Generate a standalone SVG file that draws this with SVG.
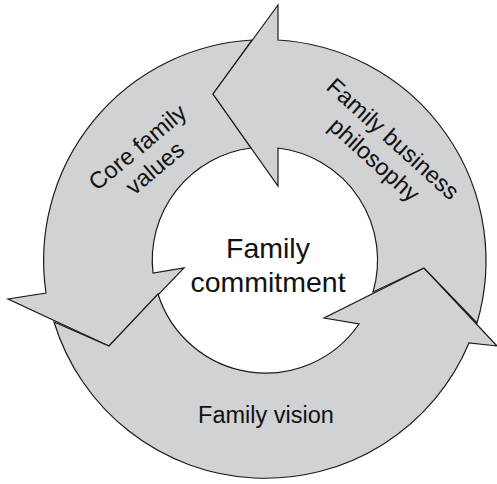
<svg xmlns="http://www.w3.org/2000/svg" width="497" height="484" viewBox="0 0 497 484">
<style>
.arrow{fill:#d1d2d4;stroke:#1a1a1a;stroke-width:1.2;stroke-linejoin:miter}
.lbl{font-family:"Liberation Sans",Arial,Helvetica,sans-serif;fill:#111;text-anchor:middle}
</style>
<rect width="497" height="484" fill="#fff"/>
<g id="connectors">
<g id="core-values">
<path class="arrow" d="M252,40 L213,94 L251,148 A113,113 0 0 0 153,273 L184,268 L109,346 L8,299 L46,293 A221,221 0 0 1 252,40 Z"/>
<text class="lbl" font-size="23.5" transform="translate(146.5,158) rotate(-40)"><tspan x="0" y="-6">Core family</tspan><tspan x="0" y="21">values</tspan></text>
</g>
<g id="family-vision">
<path class="arrow" d="M54,322 L109,346 L158,294 A113,113 0 0 0 359,324 L324,318 L424,268 L497,346 L469,343 A221,221 0 0 1 54,322 Z"/>
<text class="lbl" font-size="23.5" x="266" y="423">Family vision</text>
</g>
<g id="business-philosophy">
<path class="arrow" d="M477,323 L424,268 L373,292 A113,113 0 0 0 278,148 L278,186 L213,94 L278,5 L278,40 A221,221 0 0 1 477,323 Z"/>
<text class="lbl" font-size="23.5" transform="translate(383,150) rotate(42)"><tspan x="0" y="-7">Family business</tspan><tspan x="0" y="21">philosophy</tspan></text>
</g>
</g>
<g id="center">
<text class="lbl" font-size="28.5" x="268" y="258">Family</text>
<text class="lbl" font-size="28.5" x="268" y="292">commitment</text>
</g>
</svg>
